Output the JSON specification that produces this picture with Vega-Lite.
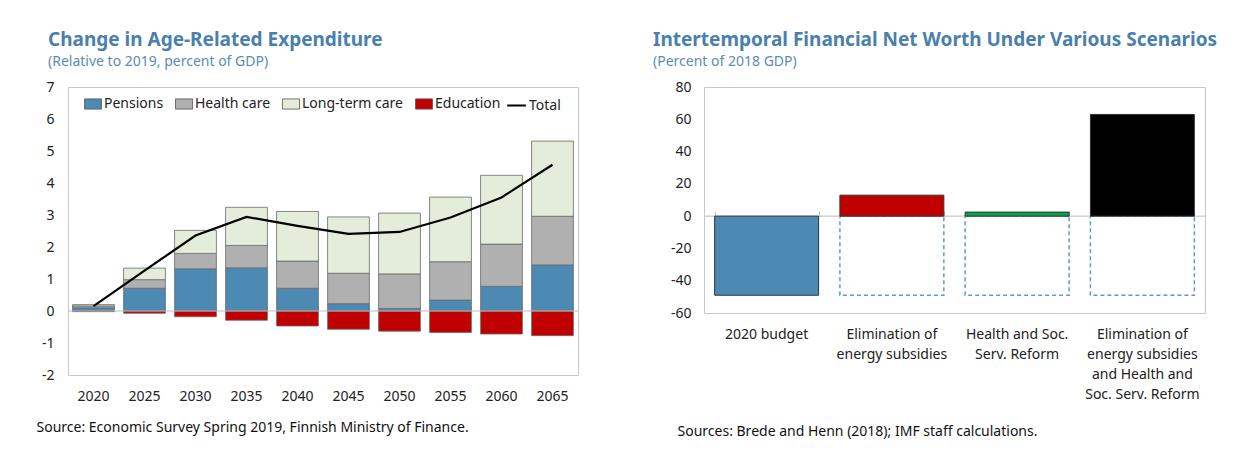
{
  "$schema": "https://vega.github.io/schema/vega-lite/v6.json",
  "background": "white",
  "padding": {"left": 35, "top": 30, "right": 10, "bottom": 10},
  "spacing": 126,
  "bounds": "flush",
  "config": {
    "font": "Noto Sans",
    "view": {"stroke": "#c8c8c8", "strokeWidth": 1},
    "axis": {"labelFont": "Noto Sans", "labelFontSize": 14, "labelColor": "#222", "domain": false, "grid": false, "ticks": false, "labelOverlap": false, "labelFlush": false, "titleFont": "Noto Sans", "titleFontSize": 14, "titleFontWeight": "normal", "titleColor": "#111"},
    "legend": {"labelFont": "Noto Sans", "labelFontSize": 14, "labelColor": "#222"},
    "title": {"font": "Noto Sans", "fontSize": 19, "fontWeight": "bold", "color": "#4a80ad", "subtitleFont": "Noto Sans", "subtitleFontSize": 14, "subtitleColor": "#5a8cb6", "anchor": "start", "frame": "group", "offset": 11, "subtitlePadding": 5}
  },
  "datasets": {
    "age": [
      {"year": "2020", "component": "Pensions", "value": 0.10},
      {"year": "2020", "component": "Health care", "value": 0.06},
      {"year": "2020", "component": "Long-term care", "value": 0.04},
      {"year": "2020", "component": "Education", "value": -0.02},
      {"year": "2025", "component": "Pensions", "value": 0.71},
      {"year": "2025", "component": "Health care", "value": 0.27},
      {"year": "2025", "component": "Long-term care", "value": 0.36},
      {"year": "2025", "component": "Education", "value": -0.07},
      {"year": "2030", "component": "Pensions", "value": 1.32},
      {"year": "2030", "component": "Health care", "value": 0.48},
      {"year": "2030", "component": "Long-term care", "value": 0.72},
      {"year": "2030", "component": "Education", "value": -0.18},
      {"year": "2035", "component": "Pensions", "value": 1.35},
      {"year": "2035", "component": "Health care", "value": 0.70},
      {"year": "2035", "component": "Long-term care", "value": 1.19},
      {"year": "2035", "component": "Education", "value": -0.29},
      {"year": "2040", "component": "Pensions", "value": 0.71},
      {"year": "2040", "component": "Health care", "value": 0.85},
      {"year": "2040", "component": "Long-term care", "value": 1.55},
      {"year": "2040", "component": "Education", "value": -0.47},
      {"year": "2045", "component": "Pensions", "value": 0.23},
      {"year": "2045", "component": "Health care", "value": 0.95},
      {"year": "2045", "component": "Long-term care", "value": 1.76},
      {"year": "2045", "component": "Education", "value": -0.57},
      {"year": "2050", "component": "Pensions", "value": 0.08},
      {"year": "2050", "component": "Health care", "value": 1.08},
      {"year": "2050", "component": "Long-term care", "value": 1.90},
      {"year": "2050", "component": "Education", "value": -0.63},
      {"year": "2055", "component": "Pensions", "value": 0.34},
      {"year": "2055", "component": "Health care", "value": 1.20},
      {"year": "2055", "component": "Long-term care", "value": 2.02},
      {"year": "2055", "component": "Education", "value": -0.67},
      {"year": "2060", "component": "Pensions", "value": 0.77},
      {"year": "2060", "component": "Health care", "value": 1.32},
      {"year": "2060", "component": "Long-term care", "value": 2.15},
      {"year": "2060", "component": "Education", "value": -0.72},
      {"year": "2065", "component": "Pensions", "value": 1.44},
      {"year": "2065", "component": "Health care", "value": 1.52},
      {"year": "2065", "component": "Long-term care", "value": 2.35},
      {"year": "2065", "component": "Education", "value": -0.77}
    ],
    "total": [
      {"year": "2020", "series": "Total", "total": 0.15},
      {"year": "2025", "series": "Total", "total": 1.26},
      {"year": "2030", "series": "Total", "total": 2.36},
      {"year": "2035", "series": "Total", "total": 2.94},
      {"year": "2040", "series": "Total", "total": 2.66},
      {"year": "2045", "series": "Total", "total": 2.41},
      {"year": "2050", "series": "Total", "total": 2.47},
      {"year": "2055", "series": "Total", "total": 2.92},
      {"year": "2060", "series": "Total", "total": 3.55},
      {"year": "2065", "series": "Total", "total": 4.57}
    ],
    "worth": [
      {"scenario": "2020 budget", "value": -49},
      {"scenario": "Elimination of energy subsidies", "value": 13},
      {"scenario": "Health and Soc. Serv. Reform", "value": 2.5},
      {"scenario": "Elimination of energy subsidies and Health and Soc. Serv. Reform", "value": 63}
    ],
    "base": [
      {"scenario": "Elimination of energy subsidies", "base": -49},
      {"scenario": "Health and Soc. Serv. Reform", "base": -49},
      {"scenario": "Elimination of energy subsidies and Health and Soc. Serv. Reform", "base": -49}
    ]
  },
  "hconcat": [
    {
      "width": 510,
      "height": 288,
      "title": {"text": "Change in Age-Related Expenditure", "subtitle": "(Relative to 2019, percent of GDP)", "dx": -20},
      "layer": [
        {
          "data": {"name": "age"},
          "mark": {"type": "bar", "stroke": "#6b6b6b", "strokeWidth": 0.8},
          "encoding": {
            "x": {"field": "year", "type": "ordinal", "scale": {"paddingInner": 0.18, "paddingOuter": 0.09},
                  "axis": {"orient": "bottom", "labelPadding": 14, "labelAngle": 0, "title": "Source: Economic Survey Spring 2019, Finnish Ministry of Finance.", "titleX": -32, "titleY": 52, "titleAlign": "left", "titleBaseline": "middle", "titleAnchor": "start"}},
            "y": {"field": "value", "type": "quantitative", "stack": "zero", "scale": {"domain": [-2, 7], "nice": false},
                  "axis": {"title": null, "values": [-2, -1, 0, 1, 2, 3, 4, 5, 6, 7], "labelOverlap": false, "labelPadding": 14, "labelExpr": "'' + datum.value"}},
            "fill": {"field": "component", "type": "nominal",
                     "sort": ["Pensions", "Health care", "Long-term care", "Education"],
                     "scale": {"domain": ["Pensions", "Health care", "Long-term care", "Education"], "range": ["#4d8ab3", "#b0b0b0", "#e4edda", "#c00000"]},
                     "legend": {"orient": "none", "legendX": 16, "legendY": 8, "direction": "horizontal", "title": null, "symbolType": "M-1,-0.6H1V0.6H-1Z", "symbolSize": 289, "symbolStrokeColor": "#555", "symbolStrokeWidth": 0.8, "columnPadding": 9, "labelOffset": 2}},
            "order": {"field": "ord", "type": "quantitative"}
          }
        },
        {
          "data": {"values": [{}]},
          "mark": {"type": "rule", "color": "#bdbdbd", "strokeWidth": 1},
          "encoding": {"y": {"datum": 0, "type": "quantitative", "axis": {"title": null, "values": [-2, -1, 0, 1, 2, 3, 4, 5, 6, 7], "labelOverlap": false, "labelPadding": 14, "labelExpr": "'' + datum.value"}}}
        },
        {
          "data": {"name": "total"},
          "mark": {"type": "line", "strokeWidth": 2.2},
          "encoding": {
            "x": {"field": "year", "type": "ordinal",
                  "axis": {"orient": "bottom", "offset": -64, "labels": false, "ticks": true, "tickBand": "extent", "tickSize": -5, "tickColor": "#bdbdbd", "title": null}},
            "y": {"field": "total", "type": "quantitative", "axis": {"title": null, "values": [-2, -1, 0, 1, 2, 3, 4, 5, 6, 7], "labelOverlap": false, "labelPadding": 14, "labelExpr": "'' + datum.value"}},
            "stroke": {"field": "series", "type": "nominal", "scale": {"range": ["#000000"]},
                       "legend": {"orient": "none", "legendX": 438, "legendY": 8, "title": null, "symbolType": "stroke", "symbolSize": 350, "symbolStrokeWidth": 2, "labelOffset": 2}}
          }
        }
      ],
      "resolve": {"axis": {"x": "independent"}}
    },
    {
      "width": 501,
      "height": 226,
      "title": {"text": "Intertemporal Financial Net Worth Under Various Scenarios", "subtitle": "(Percent of 2018 GDP)", "dx": -51},
      "layer": [
        {
          "data": {"name": "base"},
          "mark": {"type": "bar", "fill": "white", "fillOpacity": 0, "stroke": "#5b9bd5", "strokeDash": [4, 3], "strokeWidth": 1.5},
          "encoding": {
            "x": {"field": "scenario", "type": "nominal",
                  "sort": ["2020 budget", "Elimination of energy subsidies", "Health and Soc. Serv. Reform", "Elimination of energy subsidies and Health and Soc. Serv. Reform"],
                  "scale": {"domain": ["2020 budget", "Elimination of energy subsidies", "Health and Soc. Serv. Reform", "Elimination of energy subsidies and Health and Soc. Serv. Reform"], "paddingInner": 0.17, "paddingOuter": 0.085},
                  "axis": {"orient": "bottom", "offset": -97, "labels": false, "ticks": true, "tickBand": "extent", "tickSize": -5, "tickColor": "#bdbdbd", "title": null}},
            "y": {"field": "base", "type": "quantitative", "scale": {"domain": [-60, 80], "nice": false},
                  "axis": {"title": null, "values": [-60, -40, -20, 0, 20, 40, 60, 80], "labelOverlap": false, "labelPadding": 13, "labelExpr": "'' + datum.value"}},
            "y2": {"datum": 0}
          }
        },
        {
          "data": {"values": [{}]},
          "mark": {"type": "rule", "color": "#bdbdbd", "strokeWidth": 1},
          "encoding": {"y": {"datum": 0, "type": "quantitative", "axis": {"title": null, "values": [-60, -40, -20, 0, 20, 40, 60, 80], "labelOverlap": false, "labelPadding": 13, "labelExpr": "'' + datum.value"}}}
        },
        {
          "data": {"name": "worth"},
          "mark": {"type": "bar", "stroke": "#333333", "strokeWidth": 1},
          "encoding": {
            "x": {"field": "scenario", "type": "nominal",
                  "sort": ["2020 budget", "Elimination of energy subsidies", "Health and Soc. Serv. Reform", "Elimination of energy subsidies and Health and Soc. Serv. Reform"],
                  "axis": {"orient": "bottom", "labelPadding": 14, "labelAngle": 0, "labelLineHeight": 20, "labelLimit": 300,
                           "labelExpr": "datum.value == 'Elimination of energy subsidies' ? ['Elimination of', 'energy subsidies'] : datum.value == 'Health and Soc. Serv. Reform' ? ['Health and Soc.', 'Serv. Reform'] : datum.value == 'Elimination of energy subsidies and Health and Soc. Serv. Reform' ? ['Elimination of', 'energy subsidies', 'and Health and', 'Soc. Serv. Reform'] : datum.value",
                           "title": "Sources: Brede and Henn (2018); IMF staff calculations.", "titleX": -27, "titleY": 118, "titleAlign": "left", "titleBaseline": "middle", "titleAnchor": "start"}},
            "y": {"field": "value", "type": "quantitative", "axis": {"title": null, "values": [-60, -40, -20, 0, 20, 40, 60, 80], "labelOverlap": false, "labelPadding": 13, "labelExpr": "'' + datum.value"}},
            "y2": {"datum": 0},
            "fill": {"field": "scenario", "type": "nominal",
                     "scale": {"domain": ["2020 budget", "Elimination of energy subsidies", "Health and Soc. Serv. Reform", "Elimination of energy subsidies and Health and Soc. Serv. Reform"], "range": ["#4d8ab3", "#c00000", "#00a651", "#000000"]},
                     "legend": null}
          }
        }
      ],
      "resolve": {"axis": {"x": "independent"}, "scale": {"fill": "independent"}}
    }
  ],
  "resolve": {"scale": {"fill": "independent"}}
}
